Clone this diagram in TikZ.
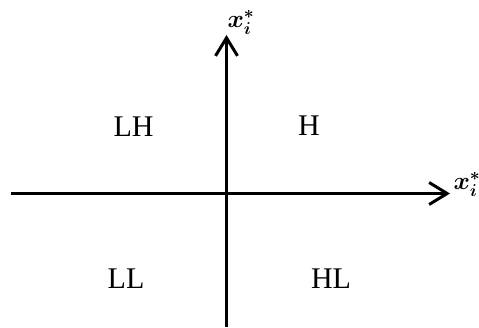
\documentclass[tikz,border=0pt]{standalone}
\usepackage{fontspec}
\usepackage{amsmath}
\usepackage{bm}
\setmainfont{Liberation Serif}
\usetikzlibrary{arrows.meta}
\begin{document}
\begin{tikzpicture}[x=1pt, y=1pt, >={Straight Barb[length=18pt, width=22pt, line width=3pt]},
  quad/.style={font=\fontsize{30}{36}\selectfont},
  axlabel/.style={font=\fontsize{26}{30}\selectfont, inner sep=0pt}]
\useasboundingbox (0,0) rectangle (479,327);

\coordinate (west) at (11,133.5);
\coordinate (east) at (450,133.5);
\coordinate (south) at (226.5,0);
\coordinate (north) at (226.5,292);

\draw[line width=3pt, ->] (west)--(east);
\draw[line width=3pt, ->] (south)--(north);

\node[axlabel] (xh) at (467,143) {$\bm{x}_{\bm{i}}^{\bm{*}}$};
\node[axlabel] (xv) at (241,305) {$\bm{x}_{\bm{i}}^{\bm{*}}$};

\node[quad] (lh) at (133.5,200.5) {LH};
\node[quad] (h) at (309,201.5) {H};
\node[quad] (ll) at (126,48) {LL};
\node[quad] (hl) at (331,48) {HL};
\end{tikzpicture}
\end{document}
